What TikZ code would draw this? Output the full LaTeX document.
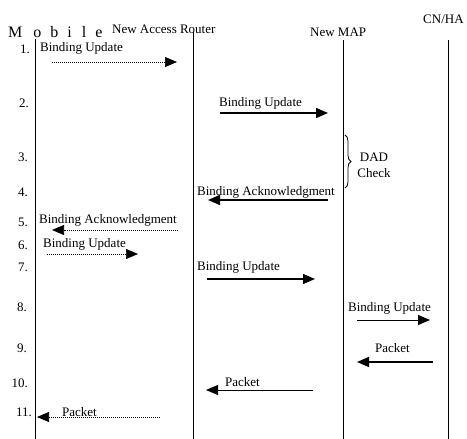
\documentclass[tikz,border=0pt]{standalone}
\usepackage{fontspec}
\setmainfont{Liberation Serif}
\usetikzlibrary{arrows.meta,decorations.pathreplacing}
\tikzset{
  txt/.style={inner sep=0pt, font=\fontsize{13}{16}\selectfont},
  lbl/.style={txt, anchor=west},
  num/.style={txt, anchor=east},
  life/.style={line width=1pt},
  solmsg/.style={line width=1.4pt, -{Triangle[length=12pt,width=10pt]}},
  dotmsg/.style={line width=0.7pt, dash pattern=on 1pt off 1pt, -{Triangle[length=12pt,width=10pt]}},
}
\begin{document}
\begin{tikzpicture}[x=1pt, y=-1pt]
  \useasboundingbox (0,0) rectangle (467,439);

  % Koppen
  \node[lbl, font=\fontsize{16}{18}\selectfont] (mob) at (8,32)
      {M\hspace{11pt}o\hspace{9pt}b\hspace{9pt}i\hspace{10pt}l\hspace{9pt}e};
  \node[lbl] (nar) at (112,29) {New Access Router};
  \node[lbl] (map) at (310,32) {New MAP};
  \node[lbl] (cn)  at (423,19) {CN/HA};

  % Levenslijnen
  \coordinate (mobT) at (35,39);  \coordinate (mobB) at (35,439);
  \coordinate (narT) at (193,32); \coordinate (narB) at (193,439);
  \coordinate (mapT) at (343,40); \coordinate (mapB) at (343,439);
  \coordinate (cnT)  at (448,40); \coordinate (cnB)  at (448,439);
  \draw[life] (mobT) -- (mobB);
  \draw[life] (narT) -- (narB);
  \draw[life] (mapT) -- (mapB);
  \draw[life] (cnT)  -- (cnB);

  % Stapnummers
  \node[num] (n1)  at (30,49)  {1.};
  \node[num] (n2)  at (29,103) {2.};
  \node[num] (n3)  at (28,157) {3.};
  \node[num] (n4)  at (28,192) {4.};
  \node[num] (n5)  at (28,222) {5.};
  \node[num] (n6)  at (28,245) {6.};
  \node[num] (n7)  at (28,267) {7.};
  \node[num] (n8)  at (27,307) {8.};
  \node[num] (n9)  at (27,348) {9.};
  \node[num] (n10) at (28,383) {10.};
  \node[num] (n11) at (32,412) {11.};

  % 1: Binding Update naar de router
  \node[lbl] (l1) at (40,48) {Binding Update};
  \coordinate (a1) at (52,62);  \coordinate (b1) at (177,62);
  \draw[dotmsg] (a1) -- (b1);

  % 2: Binding Update naar de MAP
  \node[lbl] (l2) at (219,103) {Binding Update};
  \coordinate (a2) at (220,113); \coordinate (b2) at (328,113);
  \draw[solmsg] (a2) -- (b2);

  % 3: DAD
  \coordinate (br1) at (345,135); \coordinate (br2) at (345,188);
  \draw[decorate, decoration={brace, amplitude=6pt}, line width=0.8pt] (br1) -- (br2);
  \node[txt, align=center] (dad) at (374,165) {DAD\\Check};

  % 4: Binding Acknowledgment naar de router
  \node[lbl] (l4) at (197,192) {Binding Acknowledgment};
  \coordinate (a4) at (328,200); \coordinate (b4) at (208,200);
  \draw[solmsg] (a4) -- (b4);

  % 5: Binding Acknowledgment naar de mobiel
  \node[lbl] (l5) at (39,220) {Binding Acknowledgment};
  \coordinate (a5) at (178,230); \coordinate (b5) at (52,230);
  \draw[dotmsg] (a5) -- (b5);

  % 6
  \node[lbl] (l6) at (43,244) {Binding Update};
  \coordinate (a6) at (47,254); \coordinate (b6) at (138,254);
  \draw[dotmsg] (a6) -- (b6);

  % 7
  \node[lbl] (l7) at (197,267) {Binding Update};
  \coordinate (a7) at (207,279); \coordinate (b7) at (315,279);
  \draw[solmsg] (a7) -- (b7);

  % 8
  \node[lbl] (l8) at (348,308) {Binding Update};
  \coordinate (a8) at (357,320); \coordinate (b8) at (430,320);
  \draw[solmsg, line width=1pt] (a8) -- (b8);

  % 9-11: Packets terug
  \node[lbl] (l9) at (375,348) {Packet};
  \coordinate (a9) at (433,362); \coordinate (b9) at (357,362);
  \draw[solmsg] (a9) -- (b9);

  \node[lbl] (l10) at (225,382) {Packet};
  \coordinate (a10) at (313,390); \coordinate (b10) at (206,390);
  \draw[solmsg, line width=1pt] (a10) -- (b10);

  \node[lbl] (l11) at (62,412) {Packet};
  \coordinate (a11) at (160,417); \coordinate (b11) at (37,417);
  \draw[dotmsg] (a11) -- (b11);

\end{tikzpicture}
\end{document}
